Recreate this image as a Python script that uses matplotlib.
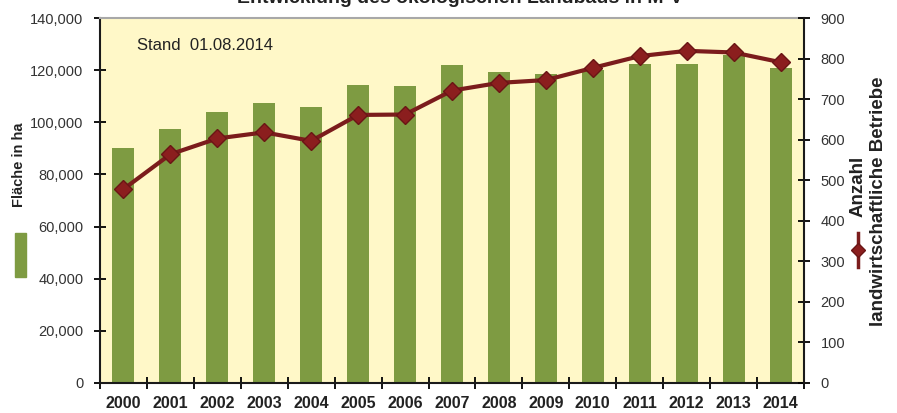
import matplotlib.pyplot as plt
import numpy as np
from matplotlib.lines import Line2D
from matplotlib.patches import Rectangle
from matplotlib.ticker import FuncFormatter

# values
years = [str(y) for y in range(2000, 2015)]
flaeche_ha = [90300, 97500, 103800, 107500, 105700, 114300, 113900, 122000,
              119200, 118500, 120100, 122400, 122400, 125800, 121000]
betriebe = [478, 564, 603, 618, 597, 661, 662, 721, 740, 747, 777, 806, 819,
            815, 791]

bar_color = "#7E9B42"
line_color = "#7B1C1C"
bg_color = "#FFF8C8"

plt.rcParams["font.family"] = ["Liberation Sans", "DejaVu Sans"]

W, H = 897, 413
fig = plt.figure(figsize=(W / 100, H / 100), dpi=100)
ax = fig.add_axes([100 / W, 30 / H, 704 / W, 365 / H])
ax.set_facecolor(bg_color)

x = np.arange(len(years))
ax.bar(x, flaeche_ha, width=0.47, color=bar_color, zorder=2)
ax.set_xlim(-0.5, len(years) - 0.5)
ax.set_ylim(0, 140000)
ax.set_yticks(range(0, 140001, 20000))
ax.yaxis.set_major_formatter(FuncFormatter(lambda v, p: f"{v:,.0f}"))

# category boundaries get the ticks, labels sit in between
ax.set_xticks(np.arange(-0.5, len(years), 1))
ax.set_xticklabels([])
ax.set_xticks(x, minor=True)
ax.set_xticklabels(years, minor=True, fontsize=11.5, fontweight="bold",
                   color="#222222")
ax.tick_params(axis="x", which="minor", length=0, pad=9)
ax.tick_params(axis="x", which="major", direction="inout", length=8, width=1.3)
ax.tick_params(axis="y", direction="inout", length=8, width=1.3, pad=8,
               labelsize=10.5, labelcolor="#333333")

ax2 = ax.twinx()
ax2.plot(x, betriebe, color=line_color, lw=3, marker="D", ms=9.5,
         mfc="#8B1E1E", mec="#6A1515", zorder=3)
ax2.set_ylim(0, 900)
ax2.set_yticks(range(0, 901, 100))
ax2.tick_params(axis="y", direction="inout", length=8, width=1.3, pad=8,
                labelsize=10.5, labelcolor="#333333")

for a in (ax, ax2):
    for s in a.spines.values():
        s.set_linewidth(1.5)
        s.set_color("#1a1a1a")
ax.spines["right"].set_visible(False)
ax.spines["top"].set_color("#A8A8A8")
ax2.spines["left"].set_visible(False)
ax2.spines["bottom"].set_visible(False)
ax2.spines["top"].set_visible(False)

# title, cut off at the top edge like in the original
fig.text(0.513, 1 - 3 / H, "Entwicklung des ökologischen Landbaus in M-V",
         ha="center", va="baseline", fontsize=14, fontweight="bold",
         color="#222222")

fig.text(137 / W, 1 - 45 / H, "Stand  01.08.2014", va="center", fontsize=12,
         color="#222222")

# left axis title with bar key
fig.text(19 / W, 1 - 165 / H, "Fläche in ha", rotation=90, ha="center",
         va="center", fontsize=10.5, fontweight="bold", color="#222222")
fig.add_artist(Rectangle((15 / W, 1 - 277 / H), 11 / W, 44 / H,
                         transform=fig.transFigure, color=bar_color))

# right axis title with line key
fig.add_artist(Line2D([858 / W, 858 / W], [1 - 233 / H, 1 - 267 / H],
                      transform=fig.transFigure, color=line_color, lw=2.5))
fig.add_artist(Line2D([858 / W], [1 - 250 / H], transform=fig.transFigure,
                      marker="D", ms=7, mfc="#8B1E1E", mec="#6A1515"))
fig.text(858 / W, 1 - 186 / H, "Anzahl", rotation=90, ha="center",
         va="center", fontsize=13.5, fontweight="bold", color="#222222")
fig.text(878 / W, 1 - 201 / H, "landwirtschaftliche Betriebe", rotation=90,
         ha="center", va="center", fontsize=13.5, fontweight="bold",
         color="#222222")

fig.savefig("out.png", dpi=100, facecolor="white")
